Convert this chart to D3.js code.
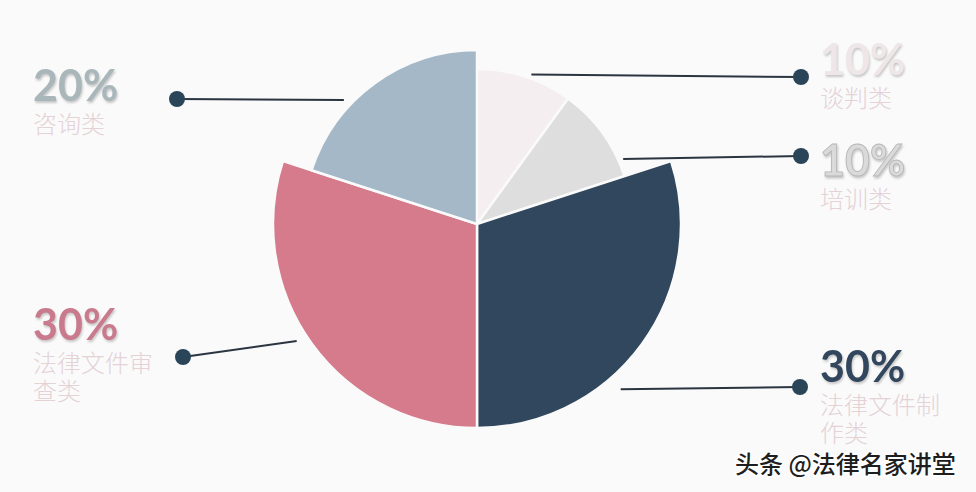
<!DOCTYPE html>
<html>
<head>
<meta charset="utf-8">
<script src="https://cdn.jsdelivr.net/npm/d3@7"></script>
<style>
  html, body { margin: 0; padding: 0; background: #fafafb; }
  svg { display: block; }
  .pct { font-family: Lato, "DejaVu Sans", sans-serif; font-weight: 700; font-size: 43px; }
  .cat { font-family: "Noto Sans CJK SC", sans-serif; font-weight: 300; font-size: 24px; fill: #e4d2d5; stroke: none; }
  .mark { font-family: "Noto Sans CJK SC", sans-serif; font-weight: 500; font-size: 24px; fill: #1e1e1e; stroke: #fff; stroke-width: 3px; paint-order: stroke; }
</style>
</head>
<body>
<script>
// chart data
var categories = ["谈判类", "培训类", "法律文件制作类", "法律文件审查类", "咨询类"];
var values = [10, 10, 30, 30, 20];
var sliceColors = ["#f4eef0", "#dedede", "#30475d", "#d67b8b", "#a4b8c7"];
var pctColors = ["#efe6e8", "#dadada", "#30475d", "#c97a8c", "#a9b6ba"];

var width = 976, height = 492;
var cx = 477, cy = 224;

var svg = d3.select("body").append("svg")
    .attr("width", width)
    .attr("height", height);

// soft shadow behind the percent figures
var defs = svg.append("defs");
defs.append("filter")
    .attr("id", "shadow")
    .attr("x", "-10%").attr("y", "-10%")
    .attr("width", "130%").attr("height", "140%")
    .append("feDropShadow")
        .attr("dx", 1).attr("dy", 2)
        .attr("stdDeviation", 1)
        .attr("flood-color", "#888")
        .attr("flood-opacity", 0.45);

// radius grows with share
var rScale = d3.scaleLinear().domain([10, 20, 30]).range([155, 174, 204]);

var pie = d3.pie().sort(null).value(function(d) { return d; });
var arcs = pie(values);

var arc = d3.arc()
    .innerRadius(0)
    .outerRadius(function(d) { return rScale(d.data); });

var g = svg.append("g").attr("transform", "translate(" + cx + "," + cy + ")");

g.selectAll("path.slice")
    .data(arcs)
    .enter()
    .append("path")
        .attr("class", "slice")
        .attr("d", arc)
        .attr("fill", function(d, i) { return sliceColors[i]; })
        .attr("stroke", "#fafafb")
        .attr("stroke-width", 2.5)
        .attr("stroke-linejoin", "round");

// leader layout: angle (deg) where the line leaves the slice, gap past the rim,
// dot position, label side and baseline of the percent text
var leaders = [
    {a: 20, gap: 4, dot: [801, 77], side: "right", y: 75},
    {a: 66, gap: 5, dot: [801, 156], side: "right", y: 176},
    {a: 139, gap: 15, dot: [800, 387], side: "right", y: 382},
    {a: 237, gap: 11, dot: [183, 357], side: "left", y: 340},
    {a: 313, gap: 8, dot: [177, 99], side: "left", y: 101}
];

arcs.forEach(function(d, i) {
    var L = leaders[i];
    var rad = L.a * Math.PI / 180;
    var r = rScale(d.data) + L.gap;
    var x0 = cx + r * Math.sin(rad);
    var y0 = cy - r * Math.cos(rad);

    svg.append("line")
        .attr("x1", x0).attr("y1", y0)
        .attr("x2", L.dot[0]).attr("y2", L.dot[1])
        .attr("stroke", "#2b3540")
        .attr("stroke-width", 2);

    svg.append("circle")
        .attr("cx", L.dot[0]).attr("cy", L.dot[1])
        .attr("r", 8)
        .attr("fill", "#2a4558");

    var tx = L.side == "right" ? 820 : 33;

    // one label block: percent on top, category name wrapped after five characters
    var label = svg.append("text")
        .attr("x", tx)
        .attr("y", L.y);

    var pct = label.append("tspan")
        .attr("class", "pct")
        .attr("x", tx)
        .attr("y", L.y)
        .attr("fill", pctColors[i])
        .attr("filter", "url(#shadow)")
        .text(d3.format(".0f")(d.data) + "%");
    if (i == 1) pct.attr("stroke", "#b5b5b5").attr("stroke-width", 0.8);

    var name = categories[i];
    var lines = [];
    for (var k = 0; k < name.length; k += 5) lines.push(name.slice(k, k + 5));
    lines.forEach(function(t, j) {
        label.append("tspan")
            .attr("class", "cat")
            .attr("x", tx)
            .attr("y", L.y + 32 + j * 28)
            .text(t);
    });
});

// watermark
svg.append("text")
    .attr("class", "mark")
    .attr("x", 735)
    .attr("y", 473)
    .text("头条 @法律名家讲堂");
</script>
</body>
</html>
